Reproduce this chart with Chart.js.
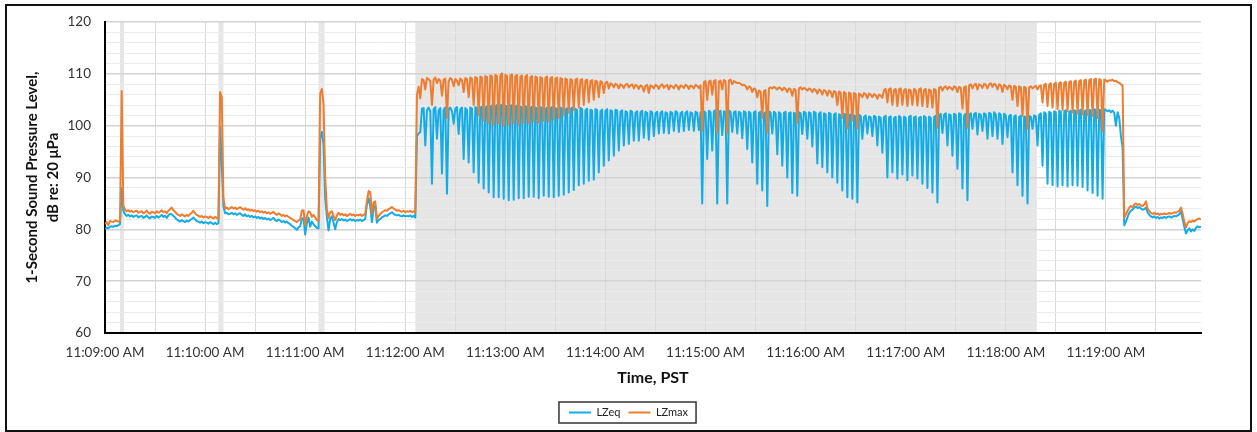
<!DOCTYPE html>
<html>
<head>
<meta charset="utf-8">
<title>1-Second Sound Pressure Level</title>
<script src="https://cdn.jsdelivr.net/npm/chart.js@4.4.1/dist/chart.umd.min.js"></script>
<style>
  html, body { margin: 0; padding: 0; background: #fff; }
</style>
</head>
<body>
<canvas id="splChart" width="1257" height="432"></canvas>
<script>
// one reading per second, first reading at 11:09:00 AM
const timeLabels = ['11:09:00 AM', '11:10:00 AM', '11:11:00 AM', '11:12:00 AM', '11:13:00 AM', '11:14:00 AM',
  '11:15:00 AM', '11:16:00 AM', '11:17:00 AM', '11:18:00 AM', '11:19:00 AM'];

const lzeq = [
  80.0, 80.3, 80.2, 80.5, 80.6, 80.5, 80.7, 80.6, 80.8, 81.0, 88.0, 83.6, 82.9, 82.6, 82.8, 82.5, 82.7, 82.4, 82.6, 82.7,
  82.3, 82.5, 82.6, 82.2, 82.4, 82.7, 82.3, 82.1, 82.5, 82.4, 82.2, 82.6, 82.3, 82.5, 82.8, 82.4, 82.6, 82.2, 82.7, 83.0,
  82.9, 82.6, 82.3, 81.9, 81.7, 81.5, 81.8, 81.6, 81.4, 81.7, 81.5, 81.8, 82.0, 82.3, 81.9, 81.6, 81.5, 81.3, 81.5, 81.2,
  81.4, 81.3, 81.1, 81.4, 81.2, 81.0, 81.3, 81.0, 81.2, 99.8, 92.5, 84.5, 83.1, 83.2, 82.9, 83.0, 83.2, 82.9, 83.1, 82.8,
  83.0, 83.1, 82.8, 82.6, 82.9, 82.5, 82.7, 82.4, 82.6, 82.3, 82.5, 82.2, 82.4, 82.1, 82.3, 82.0, 82.2, 81.9, 82.1, 81.8,
  82.0, 82.2, 81.8, 81.6, 81.9, 81.7, 81.4, 81.6, 81.3, 81.5, 81.2, 81.0, 80.7, 80.5, 80.2, 79.9, 80.4, 80.6, 82.0, 82.2,
  79.0, 81.2, 82.3, 80.5, 81.5, 81.0, 80.6, 80.3, 80.2, 97.5, 98.8, 96.5, 86.0, 82.4, 79.8, 82.0, 82.5, 81.3, 80.0, 81.4,
  82.0, 81.8, 82.0, 81.7, 81.9, 81.6, 81.8, 82.0, 81.7, 81.9, 81.6, 81.8, 81.7, 81.9, 81.6, 81.8, 82.0, 84.8, 86.0, 84.5,
  81.4, 84.0, 84.6, 81.3, 81.8, 82.0, 82.3, 82.5, 82.7, 82.6, 82.9, 83.1, 83.3, 83.0, 82.8, 82.7, 82.8, 82.6, 82.5, 82.7,
  82.5, 82.6, 82.5, 82.7, 82.4, 82.6, 82.3, 98.0, 98.5, 98.8, 103.3, 103.4, 96.2, 103.0, 103.5, 102.8, 88.8, 103.2, 103.6, 97.5,
  103.0, 103.4, 90.8, 103.1, 103.5, 86.9, 103.2, 103.5, 102.8, 100.4, 103.3, 103.6, 98.4, 103.2, 103.5, 93.6, 103.4, 103.0, 92.9, 103.5,
  103.3, 91.0, 103.6, 103.4, 89.0, 103.5, 103.7, 87.9, 103.4, 103.8, 87.1, 103.6, 103.9, 86.2, 103.7, 104.0, 86.2, 103.8, 104.1, 85.9,
  103.9, 103.7, 85.6, 103.8, 104.0, 85.7, 103.6, 103.9, 86.0, 103.7, 103.5, 86.0, 103.8, 103.6, 86.3, 103.4, 103.7, 86.3, 103.5, 103.3,
  86.0, 103.6, 103.4, 86.5, 103.2, 103.5, 86.3, 103.3, 103.6, 86.2, 103.4, 103.2, 86.5, 103.5, 103.3, 86.7, 103.1, 103.4, 87.1, 103.2,
  103.5, 87.6, 103.3, 103.0, 88.5, 103.4, 103.2, 88.8, 103.0, 103.3, 89.4, 103.1, 102.9, 89.6, 103.2, 103.0, 91.0, 102.8, 103.1, 92.3,
  102.9, 103.2, 93.3, 103.0, 102.8, 94.2, 103.1, 102.9, 95.2, 102.7, 103.0, 96.2, 102.8, 102.6, 96.5, 102.9, 102.7, 97.1, 102.5, 102.8,
  97.1, 102.6, 102.9, 97.7, 102.7, 102.5, 97.3, 102.8, 102.6, 98.0, 102.4, 102.7, 98.5, 102.5, 102.8, 98.6, 102.6, 102.4, 98.5, 102.7,
  102.5, 99.0, 102.8, 102.6, 98.8, 102.4, 102.7, 99.0, 102.5, 102.8, 99.2, 102.6, 102.4, 99.0, 102.7, 102.5, 99.2, 102.6, 85.0, 102.8,
  102.5, 93.6, 102.9, 102.6, 95.2, 102.8, 103.0, 85.0, 102.7, 102.9, 98.2, 102.8, 102.6, 85.0, 102.9, 102.7, 98.8, 102.6, 102.8, 98.5,
  102.7, 102.5, 97.6, 102.8, 102.6, 95.5, 102.7, 102.4, 92.9, 102.6, 102.8, 88.8, 102.5, 102.7, 87.5, 102.4, 102.6, 84.5, 102.8, 102.5,
  98.5, 102.7, 102.4, 94.5, 102.6, 102.3, 92.3, 102.5, 102.7, 90.0, 102.4, 102.6, 87.0, 102.5, 102.3, 86.5, 102.6, 102.4, 98.4, 102.7,
  102.5, 97.5, 102.6, 102.4, 96.0, 102.7, 102.5, 92.7, 102.3, 102.6, 92.0, 102.4, 102.2, 91.0, 102.5, 102.3, 90.0, 102.1, 102.4, 89.0,
  102.2, 102.0, 87.5, 102.3, 102.1, 86.2, 101.9, 102.2, 85.9, 102.0, 101.8, 85.2, 102.1, 101.9, 97.5, 101.7, 102.0, 98.5, 101.8, 101.6,
  98.0, 101.9, 101.7, 96.2, 101.8, 101.5, 94.8, 101.7, 101.9, 90.0, 101.6, 101.8, 91.0, 101.5, 101.7, 89.8, 101.9, 101.6, 90.6, 101.8,
  101.5, 89.5, 101.7, 101.9, 90.4, 101.6, 101.8, 89.8, 101.5, 101.7, 88.8, 101.9, 101.6, 88.0, 101.8, 101.5, 87.1, 101.7, 101.9, 85.2,
  102.0, 102.3, 98.6, 102.1, 102.4, 96.2, 102.2, 102.0, 94.2, 102.3, 102.1, 91.7, 102.4, 102.2, 87.9, 102.0, 102.3, 85.6, 102.1, 102.4,
  99.4, 102.2, 102.5, 98.3, 102.3, 102.1, 99.0, 102.4, 102.2, 97.5, 102.5, 102.3, 98.0, 102.6, 102.2, 97.5, 102.4, 102.1, 96.5, 102.3,
  102.0, 97.8, 101.9, 102.1, 91.0, 101.8, 102.0, 88.5, 101.7, 101.9, 86.5, 101.8, 101.6, 85.0, 101.9, 101.7, 99.4, 102.0, 101.8, 96.2,
  102.1, 102.4, 92.3, 102.6, 102.3, 88.8, 102.7, 102.5, 88.5, 102.8, 102.6, 88.3, 102.9, 102.7, 88.5, 102.8, 103.0, 88.3, 102.7, 102.9,
  88.5, 103.0, 102.8, 88.4, 102.9, 103.1, 88.2, 102.8, 103.0, 87.5, 103.1, 102.9, 87.0, 103.2, 103.0, 86.5, 103.1, 102.9, 85.9, 103.2,
  103.0, 102.8, 103.0, 102.6, 102.9, 102.5, 100.0, 102.6, 101.5, 98.0, 95.8, 80.8, 81.5, 82.4, 83.2, 83.6, 83.8, 84.2, 84.4, 84.1,
  84.3, 84.0, 83.8, 83.9, 84.2, 83.3, 82.8, 82.5, 82.3, 82.5, 82.2, 82.4, 82.1, 82.3, 82.2, 82.4, 82.2, 82.4, 82.5, 82.3,
  82.4, 82.6, 82.5, 82.7, 82.9, 83.5, 82.0, 80.5, 79.2, 79.8, 80.2, 79.6, 80.0, 79.7, 80.3, 80.6, 80.4, 80.5
];

const lzmax = [
  81.0, 81.4, 80.8, 81.6, 81.5, 81.4, 81.7, 81.6, 81.5, 81.6, 106.7, 84.6, 83.8, 83.5, 83.7, 83.4, 83.6, 83.3, 83.5, 83.6,
  83.2, 83.4, 83.5, 83.1, 83.3, 83.6, 83.2, 83.0, 83.4, 83.3, 83.1, 83.5, 83.2, 83.4, 83.7, 83.3, 83.5, 83.1, 83.6, 83.9,
  84.2, 83.7, 83.4, 83.0, 82.8, 82.6, 82.9, 82.7, 82.5, 82.8, 82.6, 82.9, 83.2, 83.6, 83.1, 82.8, 82.6, 82.4, 82.6, 82.3,
  82.5, 82.4, 82.2, 82.5, 82.3, 82.1, 82.4, 82.2, 82.0, 106.5, 105.5, 86.0, 84.0, 84.2, 83.9, 84.1, 84.3, 84.0, 84.2, 83.9,
  84.1, 84.3, 84.0, 83.8, 84.1, 83.7, 83.9, 83.6, 83.8, 83.5, 83.7, 83.4, 83.6, 83.3, 83.5, 83.2, 83.4, 83.1, 83.3, 83.0,
  83.2, 83.4, 83.0, 82.8, 83.1, 82.9, 82.6, 82.8, 82.5, 82.7, 82.4, 82.2, 82.0, 81.8, 81.6, 81.4, 81.7, 81.9, 83.6, 83.7,
  80.8, 82.5, 83.5, 83.3, 82.4, 82.8, 82.3, 81.8, 81.6, 106.2, 107.1, 104.2, 90.0, 84.0, 82.2, 83.3, 83.5, 82.6, 81.8, 82.7,
  83.2, 82.8, 83.0, 82.7, 82.9, 82.6, 82.8, 83.0, 82.7, 82.9, 82.6, 82.8, 82.7, 82.9, 82.6, 82.8, 83.0, 85.5, 87.4, 87.2,
  83.0, 85.2, 85.4, 82.0, 82.6, 82.9, 83.3, 83.5, 83.7, 83.6, 83.9, 84.1, 84.3, 84.0, 83.8, 83.6, 83.7, 83.5, 83.4, 83.6,
  83.3, 83.5, 83.4, 83.6, 83.3, 83.5, 83.2, 106.0, 107.5, 105.3, 109.0, 108.8, 107.0, 109.2, 109.0, 108.6, 104.0, 108.9, 109.3, 108.2,
  109.0, 108.7, 105.8, 108.9, 109.1, 101.5, 108.6, 109.2, 108.9, 107.6, 109.0, 108.7, 107.8, 109.1, 108.8, 106.5, 109.2, 109.0, 105.5, 109.3,
  109.1, 104.0, 109.4, 109.2, 102.0, 109.5, 109.3, 101.0, 109.6, 109.4, 100.5, 109.7, 109.5, 100.2, 109.8, 109.6, 100.5, 109.7, 110.1, 100.0,
  109.8, 109.6, 100.2, 109.7, 109.9, 100.5, 109.6, 109.8, 100.3, 109.5, 109.7, 100.6, 109.5, 109.8, 100.5, 109.4, 109.6, 100.8, 109.5, 109.3,
  100.6, 109.4, 109.2, 101.0, 109.3, 109.5, 100.8, 109.2, 109.4, 101.2, 109.1, 109.3, 101.5, 109.2, 109.0, 102.0, 109.1, 108.9, 102.5, 109.0,
  108.8, 103.0, 108.9, 109.1, 103.5, 108.8, 109.0, 104.0, 108.7, 108.9, 104.5, 108.6, 108.8, 105.0, 108.7, 108.5, 105.5, 108.6, 108.4, 106.3,
  108.3, 108.5, 107.2, 108.2, 108.0, 107.4, 108.1, 107.9, 107.2, 108.0, 107.8, 107.3, 107.9, 108.1, 107.4, 107.8, 108.0, 107.2, 107.9, 107.7,
  107.1, 107.8, 107.6, 106.6, 107.7, 107.9, 106.3, 107.8, 107.6, 107.2, 107.9, 107.7, 107.1, 107.8, 108.0, 107.3, 107.7, 107.9, 107.0, 107.8,
  107.6, 107.2, 107.9, 107.7, 107.0, 107.8, 107.6, 107.3, 107.9, 107.7, 107.1, 107.8, 107.6, 107.2, 107.9, 107.7, 107.3, 107.8, 99.0, 108.4,
  108.6, 105.0, 108.5, 108.7, 106.0, 108.6, 108.8, 98.7, 108.5, 108.7, 107.0, 108.8, 108.6, 98.6, 108.7, 108.9, 108.0, 108.6, 108.4, 108.2,
  108.3, 108.1, 107.8, 107.9, 107.7, 107.0, 107.6, 107.4, 106.5, 107.2, 107.0, 105.5, 106.8, 106.6, 101.5, 106.7, 106.9, 98.7, 107.2, 107.4,
  107.2, 107.5, 107.3, 107.0, 107.4, 107.2, 106.8, 107.3, 107.1, 106.5, 107.2, 107.0, 105.8, 107.1, 106.9, 100.6, 107.2, 107.4, 107.0, 107.3,
  107.1, 106.8, 107.2, 107.0, 106.5, 107.1, 106.9, 106.2, 107.0, 106.8, 106.0, 106.9, 106.7, 105.8, 106.8, 106.6, 105.5, 106.7, 106.5, 104.0,
  106.6, 106.4, 101.5, 106.5, 106.3, 99.5, 106.4, 106.2, 101.0, 106.3, 106.1, 99.5, 106.2, 106.0, 105.5, 106.3, 106.1, 105.3, 106.2, 106.0,
  105.5, 106.1, 105.9, 105.2, 106.0, 105.8, 105.4, 106.9, 107.1, 104.5, 107.0, 107.2, 104.0, 106.9, 107.1, 103.8, 107.0, 107.2, 104.0, 106.9,
  107.1, 103.8, 107.0, 106.8, 104.0, 107.1, 106.9, 103.9, 107.0, 107.2, 103.8, 106.9, 107.1, 103.6, 107.0, 106.8, 103.5, 107.1, 106.9, 99.6,
  107.3, 107.5, 106.8, 107.4, 107.6, 107.0, 107.5, 107.3, 106.9, 107.6, 107.4, 106.5, 107.5, 107.3, 103.3, 107.4, 107.6, 99.6, 107.8, 108.0,
  107.2, 107.9, 108.1, 107.0, 108.0, 107.8, 107.3, 108.1, 107.9, 107.2, 108.0, 108.2, 107.5, 108.1, 107.9, 107.0, 108.0, 107.8, 106.5, 107.9,
  107.7, 107.0, 107.8, 107.6, 105.0, 107.7, 107.5, 103.8, 107.6, 107.4, 101.9, 107.5, 107.3, 99.4, 107.4, 107.6, 107.2, 107.5, 107.7, 107.0,
  107.6, 107.8, 104.5, 107.9, 108.1, 103.8, 108.0, 108.2, 103.5, 108.1, 108.3, 103.2, 108.2, 108.4, 103.0, 108.3, 108.5, 102.8, 108.4, 108.6,
  102.5, 108.5, 108.7, 102.3, 108.6, 108.8, 102.2, 108.7, 108.9, 102.0, 108.8, 109.0, 101.9, 108.9, 109.1, 101.5, 109.0, 108.8, 99.0, 108.9,
  108.7, 108.5, 108.8, 108.7, 108.9, 108.6, 108.7, 108.4, 108.3, 108.0, 107.8, 82.3, 82.9, 83.6, 84.2, 84.5, 84.3, 84.8, 85.0, 84.7,
  84.9, 84.6, 84.5, 84.8, 85.4, 84.0, 83.5, 83.2, 83.0, 83.2, 82.9, 83.1, 82.8, 83.0, 82.9, 83.1, 82.9, 83.0, 83.2, 83.0,
  83.1, 83.3, 83.2, 83.4, 83.6, 84.2, 83.0, 81.5, 80.4, 81.2, 81.6, 81.4, 81.7, 81.5, 81.8, 82.0, 82.1, 81.9
];

// shaded periods, in seconds after 11:09:00
const bandStarts = [9, 68, 128, 186];
const bandEnds = [11.4, 71, 131.6, 558.6];

const BLUE = '#14ace6';
const ORANGE = '#ed7d31';

Chart.defaults.font.family = 'Lato, "Open Sans", sans-serif';
Chart.defaults.color = '#333';

const toPoints = (arr) => arr.map((v, i) => ({ x: i, y: v }));

// grey bands behind the grid
const bandPlugin = {
  id: 'bands',
  beforeDraw(chart) {
    const { ctx, chartArea, scales } = chart;
    const x = scales.x;
    ctx.save();
    ctx.fillStyle = '#e6e6e6';
    bandStarts.forEach((s, i) => {
      const x0 = x.getPixelForValue(s);
      const x1 = x.getPixelForValue(bandEnds[i]);
      ctx.fillRect(x0, chartArea.top, x1 - x0, chartArea.bottom - chartArea.top);
    });
    ctx.restore();
  }
};

// outer frame and a box round the legend
const framePlugin = {
  id: 'frame',
  afterDraw(chart) {
    const { ctx, legend } = chart;
    ctx.save();
    ctx.strokeStyle = '#111';
    ctx.lineWidth = 2;
    ctx.strokeRect(6, 5, chart.width - 12, chart.height - 6);
    const boxes = legend.legendHitBoxes || [];
    if (boxes.length) {
      const left = Math.min(...boxes.map(b => b.left)) - 10;
      const right = Math.max(...boxes.map(b => b.left + b.width)) + 8;
      const mid = boxes[0].top + boxes[0].height / 2;
      ctx.lineWidth = 1.5;
      ctx.strokeStyle = '#333';
      ctx.strokeRect(left, mid - 10.5, right - left, 21);
    }
    ctx.restore();
  }
};

new Chart(document.getElementById('splChart'), {
  type: 'line',
  data: {
    datasets: [
      {
        label: 'LZeq',
        data: toPoints(lzeq),
        borderColor: BLUE,
        backgroundColor: BLUE,
        borderWidth: 2,
        order: 2
      },
      {
        label: 'LZmax',
        data: toPoints(lzmax),
        borderColor: ORANGE,
        backgroundColor: ORANGE,
        borderWidth: 2,
        order: 1
      }
    ]
  },
  options: {
    responsive: false,
    animation: false,
    devicePixelRatio: 1,
    layout: { padding: { top: 21, bottom: 4, left: 0, right: 0 } },
    elements: {
      point: { radius: 0 },
      line: { tension: 0, borderJoinStyle: 'round' }
    },
    plugins: {
      tooltip: { enabled: false },
      legend: {
        position: 'bottom',
        labels: {
          usePointStyle: true,
          pointStyle: 'line',
          pointStyleWidth: 22,
          padding: 8,
          color: '#222',
          font: { size: 11 },
          sort: (a, b) => a.datasetIndex - b.datasetIndex
        }
      }
    },
    scales: {
      x: {
        type: 'linear',
        min: 0,
        max: 657,
        afterFit(scale) { scale.height = 66; },
        border: { color: '#000', width: 2 },
        grid: { color: '#d9d9d9', lineWidth: 1, drawTicks: false },
        ticks: {
          stepSize: 30,
          autoSkip: false,
          maxRotation: 0,
          includeBounds: false,
          padding: 12,
          color: '#333',
          font: { size: 13.5 },
          callback: (v) => (v % 60 === 0 ? timeLabels[v / 60] : '')
        },
        title: {
          display: true,
          text: 'Time, PST',
          color: '#111',
          font: { size: 16, weight: 'bold', lineHeight: 1.2 },
          padding: { top: 0, bottom: 12 }
        }
      },
      y: {
        min: 60,
        max: 120,
        afterFit(scale) { scale.width = 105; },
        border: { color: '#000', width: 2 },
        grid: {
          drawTicks: false,
          color: (c) => (c.tick.value % 10 === 0 ? '#d3d3d3' : '#ebebeb'),
          lineWidth: (c) => (c.tick.value % 10 === 0 ? 1.5 : 1)
        },
        ticks: {
          stepSize: 2,
          autoSkip: false,
          padding: 14,
          color: '#333',
          font: { size: 13.5 },
          callback: (v) => (v % 10 === 0 ? v : '')
        },
        title: {
          display: true,
          text: ['1-Second Sound Pressure Level,', 'dB re: 20 μPa'],
          color: '#111',
          font: { size: 15, weight: 'bold', lineHeight: 1.45 },
          padding: { top: 21, bottom: 0 }
        }
      },
      yRight: {
        position: 'right',
        display: true,
        afterFit(scale) { scale.width = 56; },
        grid: { display: false },
        border: { display: false },
        ticks: { display: false }
      }
    }
  },
  plugins: [bandPlugin, framePlugin]
});
</script>
</body>
</html>
